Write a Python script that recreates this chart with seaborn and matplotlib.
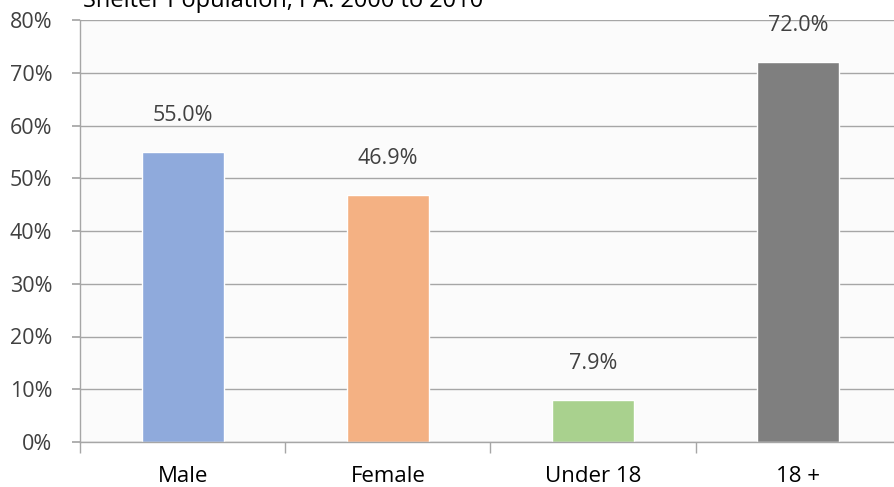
import matplotlib
matplotlib.use('Agg')
import matplotlib.pyplot as plt
import seaborn as sns
import pandas as pd
from matplotlib.ticker import FuncFormatter

# dados
categorias = ['Male', 'Female', 'Under 18', '18 +']
valores = [55.0, 46.9, 7.9, 72.0]
cores = ['#8faadc', '#f4b183', '#a9d18e', '#7f7f7f']
titulo = 'Shelter Population, PA: 2000 to 2010'

df = pd.DataFrame({'cat': categorias, 'val': valores})

sns.set_theme(style='white')
plt.rcParams['font.family'] = ['Open Sans', 'DejaVu Sans']

fig = plt.figure(figsize=(8.94, 4.87), dpi=100)
fig.patch.set_facecolor('white')
# eixo se estende alem da borda direita, como no original
ax = fig.add_axes([80/894, 45/487, 821/894, 422/487])
ax.set_facecolor('#fbfbfb')

sns.barplot(data=df, x='cat', y='val', hue='cat', palette=cores, width=0.4,
            legend=False, ax=ax, saturation=1)

ax.set_ylim(0, 80)
ax.set_xlim(-0.5, 3.5)
ax.set_yticks(range(0, 81, 10))
ax.yaxis.set_major_formatter(FuncFormatter(lambda v, p: f'{v:.0f}%'))
ax.grid(axis='y', color='#a6a6a6', linewidth=1)
ax.set_axisbelow(True)
ax.set_xlabel('')
ax.set_ylabel('')

for s in ['top', 'right']:
    ax.spines[s].set_visible(False)
for s in ['left', 'bottom']:
    ax.spines[s].set_color('#a6a6a6')
    ax.spines[s].set_linewidth(1)

ax.tick_params(axis='y', left=True, length=6, color='#a6a6a6', labelsize=15.5,
               labelcolor='#404040', pad=14)
# marcas do eixo x entre categorias
ax.set_xticks([-0.5, 0.5, 1.5, 2.5, 3.5], minor=True)
ax.tick_params(axis='x', which='minor', bottom=True, length=8, color='#a6a6a6')
ax.tick_params(axis='x', which='major', bottom=False, labelsize=16, labelcolor='black', pad=11)

for i, v in enumerate(valores):
    ax.annotate(f'{v:.1f}%', (i, v), xytext=(0, 26), textcoords='offset pixels',
                ha='center', va='bottom', fontsize=15.5, color='#404040')

fig.text(83/894, 0.998, titulo, ha='left', va='center', fontsize=17, color='black')

fig.savefig('out.png', dpi=100)
